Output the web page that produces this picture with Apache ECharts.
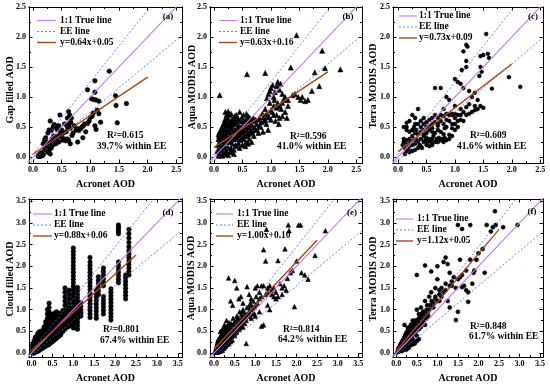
<!DOCTYPE html>
<html><head><meta charset="utf-8">
<script src="https://cdn.jsdelivr.net/npm/echarts@6/dist/echarts.min.js"></script>
<style>html,body{margin:0;padding:0;background:#fff}#c{width:550px;height:387px}</style>
</head><body><div id="c"></div>
<script>
// ---------------- DATA ----------------
const panelLetters = ['(a)','(b)','(c)','(d)','(e)','(f)'];
const yTitles = ['Gap filled AOD','Aqua MODIS AOD','Terra MODIS AOD','Cloud filled AOD','Aqua MODIS AOD','Terra MODIS AOD'];
const xTitle = 'Acronet AOD';
const ticksRow1 = [0,0.5,1.0,1.5,2.0,2.5];
const minorRow1 = [0.25,0.75,1.25,1.75,2.25];
const ticksRow2 = [0,0.5,1.0,1.5,2.0,2.5,3.0,3.5];
const minorRow2 = [0.25,0.75,1.25,1.75,2.25,2.75,3.25];
const fitSlope = [0.64,0.63,0.73,0.88,1.00,1.12];
const fitIntercept = [0.05,0.16,0.09,0.06,0.10,0.05];
const fitXEnd = [2.0,2.0,2.0,2.5,2.5,2.5];
const fitLabels = ['y=0.64x+0.05','y=0.63x+0.16','y=0.73x+0.09','y=0.88x+0.06','y=1.00x+0.10','y=1.12x+0.05'];
const r2Labels = ['R²=0.615','R²=0.596','R²=0.609','R²=0.801','R²=0.814','R²=0.848'];
const eeLabels = ['39.7% within EE','41.0% within EE','41.6% within EE','67.4% within EE','64.2% within EE','61.7% within EE'];
const eeSlopeUp = 1.2, eeSlopeLow = 0.8, eeOffset = 0.05;

const pointsA = [[0.10,0.02],[0.12,0.03],[0.13,0.02],[0.14,0.04],[0.15,0.03],[0.16,0.05],[0.17,0.03],[0.11,0.04],[0.13,0.05],[0.15,0.06],[0.18,0.04],[0.09,0.01],[0.12,0.01],[0.16,0.02],[0.14,0.07],
[0.2,0.12],[0.22,0.17],[0.25,0.2],[0.27,0.13],[0.28,0.1],[0.3,0.18],[0.32,0.15],[0.31,0.25],[0.33,0.3],[0.35,0.2],[0.36,0.35],[0.38,0.28],[0.4,0.22],[0.42,0.3],[0.44,0.35],[0.45,0.25],[0.48,0.4],[0.5,0.33],[0.52,0.28],[0.55,0.3],[0.57,0.27],[0.6,0.3],[0.62,0.28],[0.58,0.42],[0.6,0.5],[0.63,0.55],[0.65,0.48],[0.66,0.58],[0.7,0.4],[0.72,0.52],[0.65,0.22],[0.68,0.36],[0.24,0.25],[0.26,0.4],[0.28,0.45],[0.3,0.6],[0.32,0.44],[0.35,0.5],[0.37,0.54],[0.4,0.52],[0.42,0.46],[0.45,0.52],[0.47,0.7],[0.5,0.45],[0.53,0.4],[0.55,0.55],[0.6,0.65],[0.62,0.76],[0.64,0.7],[0.67,0.65],[0.2,0.28],[0.22,0.32],[0.18,0.22],[0.26,0.08],[0.3,0.05],
[0.75,0.45],[0.78,0.47],[0.8,0.44],[0.83,0.47],[0.85,0.5],[0.88,0.52],[0.9,0.55],[0.92,0.42],[0.95,0.56],[0.87,0.32],[0.98,0.6],[1.0,0.66],[1.03,0.68],[1.05,0.73],[0.95,1.12],[1.02,0.97],[1.06,0.96],[1.1,0.95],[1.08,1.27],[1.08,1.08],[1.15,0.93],[1.12,0.78],[1.15,0.72],[1.18,0.58],[1.08,0.52],[1.1,0.46],[1.33,1.43],[1.44,1.02],[1.45,0.86],[1.63,0.89],[1.47,0.57],[0.78,0.25]];

const pointsB = [[0.08,0.02],[0.09,0.05],[0.1,0.08],[0.08,0.12],[0.1,0.15],[0.12,0.18],[0.09,0.22],[0.11,0.25],[0.1,0.3],[0.12,0.35],[0.08,0.38],[0.1,0.42],[0.13,0.1],[0.14,0.05],[0.15,0.02],[0.16,0.12],[0.13,0.28],[0.15,0.32],[0.12,0.45],[0.14,0.5],[0.1,1.03],
[0.18,0.2],[0.2,0.25],[0.2,0.38],[0.22,0.45],[0.18,0.55],[0.2,0.6],[0.22,0.7],[0.2,0.75],[0.25,0.76],[0.25,0.3],[0.24,0.42],[0.26,0.52],[0.28,0.6],[0.3,0.72],[0.28,0.35],[0.3,0.25],[0.32,0.4],[0.32,0.5],[0.34,0.3],[0.35,0.62],[0.36,0.45],[0.38,0.55],[0.38,0.2],[0.4,0.3],[0.4,0.4],[0.42,0.5],[0.42,0.65],[0.44,0.35],[0.45,0.75],[0.46,0.28],[0.48,0.45],[0.48,0.6],[0.5,0.38],[0.5,0.52],[0.52,0.7],[0.52,0.3],[0.54,0.42],[0.55,0.6],[0.56,0.25],[0.58,0.5],[0.58,0.35],[0.6,0.45],[0.6,0.68],[0.62,0.3],[0.62,0.55],[0.64,0.4],[0.65,0.62],[0.66,0.25],[0.68,0.5],[0.7,0.35],[0.7,0.6],[0.72,0.45],[0.58,1.38],
[0.3,0.15],[0.35,0.12],[0.4,0.18],[0.45,0.15],[0.5,0.2],[0.55,0.18],[0.6,0.22],[0.28,0.08],[0.22,0.1],[0.25,0.16],[0.33,0.22],[0.43,0.23],[0.47,0.33],[0.53,0.5],[0.57,0.72],[0.63,0.65],[0.4,0.58],[0.36,0.68],[0.31,0.56],[0.27,0.46],[0.23,0.58],[0.19,0.45],[0.17,0.35],[0.21,0.15],
[0.75,0.55],[0.78,0.4],[0.8,0.65],[0.82,0.5],[0.85,0.72],[0.86,0.42],[0.88,0.6],[0.9,0.8],[0.9,1.4],[0.92,0.55],[0.94,0.68],[0.95,0.45],[0.96,1.05],[0.98,1.1],[1.0,0.62],[1.0,1.15],[1.02,0.75],[1.03,1.2],[1.05,0.85],[1.05,1.0],[1.07,1.08],[1.08,0.6],[1.1,1.18],[1.1,0.7],[1.12,1.25],[1.12,0.9],[1.14,0.55],[1.15,1.12],[1.15,0.65],[1.17,1.22],[1.18,0.8],[1.2,1.05],[1.2,0.68],[1.22,0.95],[1.25,0.75],[1.28,0.65],[1.3,0.85],[0.98,0.9],[1.06,0.95],[0.93,0.98],
[1.35,1.49],[1.38,1.03],[1.42,1.05],[1.45,2.03],[1.48,1.0],[1.52,0.95],[1.55,1.0],[1.6,0.93],[1.65,0.95],[1.72,1.1],[1.77,1.41],[1.85,1.18],[1.9,1.77],[1.95,1.48],[2.22,1.46],
[0.06,0.1],[0.07,0.2],[0.08,0.3],[0.09,0.35],[0.11,0.12],[0.11,0.38],[0.12,0.22],[0.13,0.42],[0.14,0.15],[0.15,0.25],[0.15,0.45],[0.16,0.38],[0.17,0.2],[0.17,0.55],[0.18,0.3],[0.19,0.62],[0.2,0.45],[0.21,0.52],[0.22,0.28],[0.23,0.35],[0.24,0.65],[0.25,0.55],[0.26,0.25],[0.27,0.7],[0.28,0.4],[0.29,0.52],[0.3,0.32],[0.31,0.45],[0.32,0.62],[0.33,0.36],[0.34,0.55],[0.35,0.42],[0.36,0.3],[0.37,0.62],[0.38,0.45],[0.39,0.7],[0.4,0.35],[0.41,0.55],[0.43,0.42],[0.44,0.6],[0.46,0.5],[0.47,0.4],[0.49,0.66],[0.5,0.3],[0.51,0.45],[0.53,0.6],[0.54,0.35],[0.56,0.52],[0.57,0.4],[0.59,0.62],[0.61,0.38],[0.63,0.48],[0.65,0.55],[0.67,0.42],[0.69,0.65],[0.71,0.5],[0.73,0.62],[0.76,0.45],[0.78,0.62],[0.8,0.52],[0.83,0.58],[0.87,0.66],[0.9,0.62],[0.93,0.72],[0.97,0.66],[1.0,0.78],[1.05,0.7],[1.1,0.82],[1.15,0.85],[1.2,0.9],[1.25,1.0],[1.3,0.95],[0.2,0.05],[0.25,0.03],[0.18,0.08],[0.3,0.08],[0.35,0.05]];

const pointsC = [[1.55,2.05],[1.15,1.76],[1.2,1.87],[1.22,1.84],[1.5,1.7],[1.58,1.72],[1.6,1.65],[1.45,1.68],[1.45,1.5],[1.47,1.42],[1.43,1.35],[1.95,1.33],[2.15,1.17],[1.65,1.14],[1.2,1.6],[1.2,1.5],[1.12,1.45],[1.0,1.3],[1.05,1.25],[1.1,1.22],[0.65,1.15],[0.75,1.15],[1.15,1.15],[1.25,1.1],[1.35,1.07],[1.3,1.0],[1.4,0.95],[1.45,0.85],[1.5,0.82],[1.35,0.85],[1.25,0.88],[1.2,0.83],[1.1,0.8],[1.0,0.85],[0.9,0.95],[0.85,1.0],[0.8,0.8],[0.85,0.72],[0.95,0.7],[1.0,0.65],[1.05,0.7],[1.1,0.62],[1.15,0.6],[0.9,0.6],[0.95,0.55],[0.85,0.5],[0.8,0.55],[0.75,0.6],[0.7,0.65],[0.65,0.58],[0.6,0.55],[0.55,0.62],[0.5,0.58],[0.45,0.65],[0.35,0.8],[0.2,0.6],[0.15,0.57],[0.1,0.5],[0.15,0.5],[0.25,0.7],[0.3,0.55],[0.32,0.45],[0.4,0.5],[0.45,0.45],[0.5,0.4],[0.55,0.45],[0.6,0.42],[0.65,0.4],[0.7,0.45],[0.75,0.42],[0.8,0.38],[0.9,0.37],[1.0,0.45],
[0.08,0.2],[0.1,0.25],[0.1,0.3],[0.12,0.15],[0.15,0.2],[0.15,0.28],[0.18,0.12],[0.18,0.22],[0.2,0.18],[0.2,0.3],[0.22,0.25],[0.25,0.2],[0.25,0.35],[0.28,0.28],[0.3,0.22],[0.3,0.4],[0.32,0.3],[0.35,0.25],[0.35,0.38],[0.38,0.2],[0.4,0.3],[0.4,0.42],[0.42,0.15],[0.45,0.25],[0.45,0.35],[0.48,0.28],[0.5,0.2],[0.5,0.32],[0.52,0.25],[0.55,0.3],[0.55,0.18],[0.58,0.25],[0.6,0.3],[0.6,0.2],[0.62,0.35],[0.65,0.25],[0.68,0.3],[0.7,0.25],[0.72,0.32],[0.75,0.28],[0.78,0.3],[0.8,0.25],[0.82,0.32],[0.85,0.28],[0.9,0.3],[0.95,0.35],[0.3,0.12],[0.35,0.15],[0.4,0.18],[0.25,0.1],[0.2,0.08],[0.15,0.1],[0.12,0.05],
[0.15,0.45],[0.2,0.42],[0.25,0.45],[0.28,0.5],[0.35,0.55],[0.4,0.6],[0.45,0.55],[0.5,0.5],[0.55,0.52],[0.6,0.65],[0.65,0.7],[0.7,0.55],[0.75,0.7],[0.8,0.68],[0.85,0.62],[0.9,0.7],[0.95,0.72],[1.0,0.72],[1.05,0.6],[1.1,0.7],[1.15,0.75],[1.2,0.7],[1.25,0.72],[1.3,0.75],[1.35,0.78],[1.4,0.8],[0.3,0.65],[0.45,0.38],[0.6,0.48],[0.7,0.52],[1.0,0.55],[1.05,0.5],[0.95,0.48],[0.82,0.48]];

const stackXD = [0.03,0.06,0.09,0.12,0.15,0.18,0.21,0.24,0.27,0.3,0.34,0.38,0.42,0.46,0.5,0.55,0.6,0.65,0.7,0.75,0.8,0.86,0.9,0.95,1.0,1.05,1.1,1.18,1.4,1.55,1.6,1.72,1.9,2.08,2.25,2.33];
const stackYD = [
[0.0,0.04,0.08,0.12,0.16,0.2],
[0.0,0.03,0.07,0.11,0.15,0.19,0.24,0.28],
[0.02,0.06,0.1,0.14,0.18,0.22,0.27,0.32,0.36],
[0.03,0.07,0.11,0.15,0.2,0.24,0.29,0.34,0.38],
[0.04,0.09,0.13,0.18,0.22,0.27,0.31,0.36,0.41,0.45],
[0.06,0.1,0.15,0.2,0.24,0.29,0.33,0.38,0.43,0.48],
[0.08,0.12,0.17,0.22,0.26,0.31,0.36,0.4,0.45,0.5],
[0.1,0.15,0.2,0.24,0.29,0.34,0.38,0.43,0.48],
[0.12,0.17,0.22,0.27,0.31,0.36,0.41,0.46,0.52],
[0.14,0.19,0.24,0.29,0.34,0.38,0.43,0.48,0.55,0.6],
[0.16,0.21,0.26,0.31,0.36,0.41,0.46,0.52,0.58,0.65,0.72],
[0.18,0.24,0.29,0.34,0.4,0.45,0.5,0.56,0.62,0.7,0.8,0.9,1.0],
[0.2,0.26,0.32,0.38,0.44,0.5,0.56,0.62,0.68,0.75,0.85,0.95,1.05,1.15],
[0.24,0.3,0.36,0.42,0.48,0.54,0.6,0.66,0.72,0.8,0.9],
[0.26,0.32,0.38,0.44,0.5,0.56,0.62,0.68,0.75,0.82],
[0.3,0.36,0.42,0.48,0.54,0.6,0.66,0.72,0.78,0.85,0.92],
[0.34,0.4,0.46,0.52,0.58,0.64,0.7,0.76,0.82,0.88,0.95],
[0.38,0.44,0.5,0.56,0.62,0.68,0.74,0.8,0.86,0.92],
[0.42,0.48,0.54,0.6,0.66,0.72,0.78,0.84,0.9],
[0.5,0.56,0.62,0.68,0.74,0.8,0.86,0.92,0.98],
[0.55,0.62,0.68,0.75,0.82,0.9,1.0,1.1,1.2,1.3,1.4,1.5],
[0.6,0.66,0.72,0.78,0.85,0.92,1.0,1.1],
[0.62,0.7,0.78,0.86,0.95,1.05,1.15,1.25,1.35,1.45],
[0.65,0.72,0.8,0.88,0.95,1.02],
[0.58,0.66,0.74,0.82,0.9,0.98,1.06,1.14,1.22,1.3,1.38,1.46,1.54,1.62,1.7,1.78,1.86,1.94,2.02,2.1,2.18,2.26,2.34,2.42],
[0.7,0.78,0.86,0.94,1.02,1.1],
[0.55,0.63,0.71,0.79,0.87,0.95,1.03,1.11,1.19,1.27,1.35,1.43,1.51],
[0.85,0.92,1.0,1.08,1.16],
[0.82,0.9,0.98,1.06,1.14,1.22,1.3,1.38,1.46,1.54,1.62,1.7,1.78,1.86,1.94,2.02,2.1,2.2],
[0.8,0.88,0.96,1.04,1.12,1.2,1.28,1.36,1.44],
[1.35,1.43,1.51,1.6,1.68,1.76],
[0.9,0.98,1.06,1.14,1.22,1.3,1.55,1.63,1.71,1.8,1.88,1.96],
[0.76,0.84,0.92,1.0,1.08,1.16,1.24,1.32,1.4,1.48],
[1.62,1.7,1.78,1.86,1.94,2.02,2.1,2.75,2.8,2.85,2.9,2.95],
[1.25,1.33,1.41,1.49,1.57,1.65,1.73,1.8],
[1.8,1.88,1.96,2.04,2.12,2.2,2.28,2.36,2.45,2.55,2.65,2.75,2.85]];

const pointsE = [[0.03,0.02],[0.05,0.05],[0.06,0.1],[0.07,0.03],[0.08,0.15],[0.09,0.08],[0.1,0.12],[0.1,0.2],[0.11,0.05],[0.12,0.18],[0.12,0.25],[0.13,0.1],[0.14,0.3],[0.15,0.15],[0.15,0.22],[0.16,0.35],[0.17,0.08],[0.18,0.2],[0.18,0.28],[0.19,0.4],[0.2,0.12],[0.2,0.25],[0.21,0.33],[0.22,0.18],[0.22,0.45],[0.23,0.3],[0.24,0.22],[0.25,0.38],[0.25,0.5],[0.26,0.15],[0.27,0.28],[0.28,0.42],[0.28,0.6],[0.3,0.2],[0.3,0.33],[0.3,0.5],[0.32,0.4],[0.32,0.62],[0.34,0.28],[0.35,0.45],[0.35,0.55],[0.36,0.7],[0.38,0.35],[0.38,0.5],[0.4,0.42],[0.4,0.6],[0.42,0.3],[0.42,0.52],[0.44,0.65],[0.45,0.45],[0.46,0.8],[0.48,0.55],[0.5,0.4],[0.5,0.62],[0.52,0.7],[0.55,0.5],[0.55,0.85],[0.58,0.65],[0.6,0.55],[0.6,0.75],[0.62,0.95],[0.65,0.7],[0.68,0.85],[0.7,0.6],[0.7,1.0],[0.72,0.78],[0.75,0.9],[0.78,0.22],[0.78,0.75],[0.8,1.05],[0.82,0.85],[0.85,0.95],[0.88,1.15],[0.9,0.8],[0.92,1.0],[0.95,1.2],[0.98,0.9],[1.0,1.1],[1.02,1.3],
[0.08,0.02],[0.12,0.06],[0.16,0.1],[0.2,0.06],[0.24,0.12],[0.28,0.16],[0.32,0.2],[0.36,0.22],[0.4,0.26],[0.44,0.3],[0.14,0.04],[0.18,0.13],[0.22,0.1],[0.26,0.22],[0.3,0.26],[0.34,0.35],[0.38,0.42],[0.42,0.38],[0.46,0.48],[0.5,0.5],[0.06,0.06],[0.09,0.14],[0.11,0.18],[0.13,0.22],[0.17,0.26],[0.19,0.3],[0.23,0.36],[0.27,0.4],[0.29,0.46],[0.33,0.5],
[0.04,0.08],[0.05,0.12],[0.06,0.16],[0.07,0.2],[0.08,0.24],[0.09,0.28],[0.1,0.32],[0.11,0.1],[0.12,0.14],[0.13,0.34],[0.14,0.18],[0.15,0.38],[0.16,0.24],[0.17,0.42],[0.18,0.16],[0.19,0.22],[0.2,0.34],[0.21,0.48],[0.22,0.26],[0.23,0.42],[0.24,0.3],[0.25,0.56],[0.26,0.34],[0.27,0.5],[0.28,0.24],[0.29,0.36],[0.3,0.42],[0.31,0.58],[0.32,0.3],[0.33,0.45],[0.34,0.52],[0.35,0.36],[0.36,0.6],[0.37,0.48],[0.38,0.62],[0.39,0.4],[0.4,0.5],[0.41,0.68],[0.43,0.45],[0.44,0.55],[0.45,0.6],[0.47,0.5],[0.48,0.68],[0.49,0.45],[0.5,0.72],[0.52,0.58],[0.53,0.48],[0.54,0.66],[0.56,0.75],[0.57,0.56],[0.58,0.82],[0.6,0.66],[0.62,0.58],[0.63,0.78],[0.66,0.62],[0.67,0.9],[0.69,0.72],[0.72,0.95],[0.74,0.68],[0.76,0.82],[0.8,0.9],[0.84,1.05],[0.87,0.88],[0.9,1.1],[0.94,0.92],[0.97,1.05],[1.05,1.15],[1.1,1.25],[1.15,1.3],[1.25,1.35],[1.3,1.4],[1.4,1.45],[1.45,1.3],[0.02,0.04],[0.04,0.02],
[0.2,0.55],[0.15,0.5],[0.25,0.65],[0.3,0.75],[0.35,1.73],[0.4,1.2],[0.45,1.1],[0.5,1.67],[0.55,1.5],[0.6,1.25],[0.65,1.3],[0.7,1.15],[0.8,1.53],[0.85,1.35],[0.9,1.25],[1.0,1.5],[1.05,1.55],[1.1,1.4],[1.15,0.62],[1.2,2.38],[1.25,2.12],[1.27,2.85],[1.3,1.5],[1.35,1.55],[1.4,1.35],[1.45,1.5],[1.5,1.4],[1.55,2.13],[1.6,1.6],[1.65,1.5],[1.7,1.55],[1.72,2.4],[1.75,1.45],[1.78,1.72],[1.8,2.95],[1.82,2.82],[1.85,1.85],[1.9,1.9],[1.95,1.07],[2.0,2.12],[2.05,2.95],[2.1,2.95],[2.12,1.85],[2.2,1.8],[2.28,1.7],[2.45,2.25],[2.7,2.82],[1.2,0.65],[1.0,0.85],[1.1,0.95],[1.3,1.1],[1.35,1.0],[1.5,1.25],[1.55,1.3],[1.65,1.35],[1.2,1.55],[1.15,1.55]];

const pointsF = [[0.03,0.02],[0.05,0.06],[0.06,0.1],[0.07,0.04],[0.08,0.14],[0.09,0.08],[0.1,0.12],[0.1,0.18],[0.11,0.05],[0.12,0.16],[0.12,0.22],[0.13,0.1],[0.14,0.26],[0.15,0.14],[0.15,0.2],[0.16,0.3],[0.17,0.08],[0.18,0.2],[0.18,0.26],[0.19,0.36],[0.2,0.12],[0.2,0.24],[0.21,0.3],[0.22,0.18],[0.22,0.42],[0.23,0.28],[0.24,0.22],[0.25,0.35],[0.25,0.48],[0.26,0.15],[0.27,0.28],[0.28,0.4],[0.28,0.58],[0.3,0.22],[0.3,0.33],[0.3,0.45],[0.32,0.38],[0.32,0.6],[0.34,0.28],[0.35,0.42],[0.35,0.52],[0.36,0.66],[0.38,0.35],[0.38,0.5],[0.4,0.42],[0.4,0.58],[0.42,0.3],[0.42,0.52],[0.44,0.62],[0.45,0.45],[0.46,0.75],[0.48,0.55],[0.5,0.4],[0.5,0.62],[0.52,0.7],[0.55,0.55],[0.55,0.8],[0.58,0.65],[0.6,0.6],[0.6,0.75],[0.62,0.9],[0.65,0.72],[0.68,0.85],[0.7,0.65],[0.72,0.8],[0.75,0.92],[0.78,0.85],[0.8,1.0],[0.4,0.2],[0.45,0.22],[0.35,0.18],[0.3,0.12],[0.25,0.08],[0.5,0.28],[0.55,0.32],[0.42,0.25],[0.14,0.05],[0.2,0.08],
[0.04,0.06],[0.05,0.1],[0.06,0.04],[0.07,0.12],[0.08,0.08],[0.09,0.16],[0.1,0.08],[0.11,0.2],[0.12,0.12],[0.13,0.18],[0.14,0.2],[0.15,0.24],[0.16,0.18],[0.17,0.28],[0.18,0.22],[0.19,0.3],[0.2,0.28],[0.21,0.36],[0.22,0.26],[0.23,0.34],[0.24,0.4],[0.25,0.28],[0.26,0.38],[0.27,0.44],[0.28,0.32],[0.29,0.5],[0.3,0.38],[0.31,0.42],[0.32,0.48],[0.33,0.36],[0.34,0.55],[0.35,0.46],[0.36,0.5],[0.37,0.58],[0.38,0.44],[0.39,0.54],[0.4,0.62],[0.41,0.5],[0.43,0.56],[0.44,0.68],[0.46,0.58],[0.47,0.64],[0.49,0.7],[0.5,0.52],[0.52,0.6],[0.53,0.76],[0.56,0.66],[0.57,0.72],[0.59,0.82],[0.62,0.68],[0.64,0.78],[0.66,0.95],[0.69,0.8],[0.72,0.9],[0.74,1.0],[0.77,0.95],[0.82,1.1],[0.86,1.2],[0.9,1.15],[0.95,1.3],[1.0,1.2],[1.05,1.45],[1.1,1.3],[1.15,1.4],[1.2,1.45],[1.3,1.55],[1.35,1.65],[1.5,1.7],[1.6,1.8],[1.7,1.9],[1.95,2.15],[2.0,2.3],[2.1,2.4],
[0.2,0.65],[0.3,0.55],[0.35,0.6],[0.4,0.75],[0.45,0.7],[0.5,1.0],[0.5,1.8],[0.55,0.9],[0.6,1.05],[0.65,0.95],[0.7,2.02],[0.7,1.2],[0.75,1.1],[0.8,1.3],[0.85,1.88],[0.85,1.4],[0.9,1.05],[0.95,1.5],[1.0,1.7],[1.0,2.0],[1.05,1.2],[1.1,1.5],[1.15,2.1],[1.2,2.2],[1.2,1.6],[1.25,2.05],[1.25,1.2],[1.3,1.05],[1.35,1.55],[1.45,1.5],[1.45,0.76],[1.5,0.95],[1.5,2.95],[1.55,2.15],[1.6,1.52],[1.65,1.55],[1.7,1.45],[1.75,1.18],[1.75,1.4],[1.8,2.15],[1.8,2.95],[1.85,1.6],[1.88,1.85],[1.9,1.9],[2.15,1.85],[2.2,2.95],[2.3,2.8],[2.35,2.9],[2.4,3.27],[2.42,2.95],[2.6,2.9],[2.95,2.95],[1.6,2.86],[1.3,1.85],[1.4,1.75],[1.55,1.75],[1.05,1.35],[0.95,1.25]];

// ---------------- LAYOUT / STYLE ----------------
const grids = [
 {left:29, top:7, width:153, height:156},
 {left:210, top:7, width:152, height:156},
 {left:393, top:7, width:150, height:156},
 {left:29, top:199, width:153, height:158},
 {left:210, top:199, width:152, height:158},
 {left:393, top:199, width:150, height:158}];
const xRange = [[-0.07,2.6],[-0.07,2.6],[-0.09,2.55],[-0.06,3.6],[-0.1,3.59],[-0.08,3.57]];
const yRange = [[-0.1,2.5],[-0.1,2.5],[-0.1,2.5],[-0.09,3.55],[-0.09,3.55],[-0.09,3.55]];
const symbols = ['circle','triangle','circle','circle','triangle','circle'];
const symSize = [4.5,5,3.8,4.5,4.5,4];
const legTop = [13.5,13.5,9,15,15,20];
const legLine = [[8,27,31],[9,27,30],[6,24,26],[4,23,25],[6,23,27],[3,20,24]];
const annR2 = [[107,136],[290,137],[470,136],[103,330],[283,330],[470,327]];
const annEE = [[97,147],[277,147],[457,147],[100,341],[278,340],[469,337]];
const letterPos = [[168,17],[348,17],[533,17],[168,213],[352,213],[532,212]];
const yTitlePos = [[10,90],[192,87],[373,86],[10,279],[191,278],[373,279]];

const FONT = '"Liberation Serif","Times New Roman",serif';
const C11 = '#c77ae8', CEE = '#4f5fe0', CFIT = '#a5481f';

const stackPointsD = [];
stackXD.forEach((x,i)=>stackYD[i].forEach(y=>stackPointsD.push([x,y])));
const allPoints = [pointsA,pointsB,pointsC,stackPointsD,pointsE,pointsF];

const xAxes=[], yAxes=[], series=[], graphics=[];
for(let i=0;i<6;i++){
  const major = i<3?ticksRow1:ticksRow2, minor = i<3?minorRow1:minorRow2;
  const [x0,x1]=xRange[i], [y0,y1]=yRange[i];
  const base = {type:'value', gridIndex:i, splitLine:{show:false}, axisLine:{show:true,onZero:false,lineStyle:{color:'#000',width:1}}};
  const mk = (pos, ticks, len, label, name, min, max) => Object.assign({}, base, {
    position:pos, min, max,
    axisTick:{show:true, inside:true, length:len, customValues:ticks, lineStyle:{color:'#000',width:1}},
    axisLabel: label ? {show:true, customValues:major, margin:3, fontFamily:FONT, fontWeight:'bold', fontSize:8, color:'#000', formatter:v=>v.toFixed(1)} : {show:false},
    name: name||'', nameLocation:'middle', nameGap:16,
    nameTextStyle:{fontFamily:FONT, fontWeight:'bold', fontSize:10, color:'#000'}
  });
  xAxes.push(mk('bottom',major,3.5,true,xTitle,x0,x1));
  xAxes.push(mk('top',major,3.5,false,'',x0,x1));
  xAxes.push(mk('bottom',minor,2,false,'',x0,x1));
  xAxes.push(mk('top',minor,2,false,'',x0,x1));
  yAxes.push(mk('left',major,3.5,true,'',y0,y1));
  yAxes.push(mk('right',major,3.5,false,'',y0,y1));
  yAxes.push(mk('left',minor,2,false,'',y0,y1));
  yAxes.push(mk('right',minor,2,false,'',y0,y1));
  const xi=i*4, yi=i*4;
  series.push({type:'scatter', xAxisIndex:xi, yAxisIndex:yi, data:allPoints[i], symbol:symbols[i], symbolSize:symSize[i], itemStyle:{color:'#000', opacity:1, borderColor:'#000', borderWidth:0.6}, z:2, silent:true});
  const lo=Math.min(x0,y0), hi=Math.max(x1,y1);
  const lineS = (data,color,width,type,z)=>({type:'line', xAxisIndex:xi, yAxisIndex:yi, data, symbol:'none', clip:true, lineStyle:{color,width,type,opacity:1}, z, silent:true});
  series.push(lineS([[lo,lo],[hi,hi]],C11,1.1,'solid',3));
  series.push(lineS([[lo,eeSlopeUp*lo+eeOffset],[hi,eeSlopeUp*hi+eeOffset]],CEE,0.8,[2,2],3));
  series.push(lineS([[lo,eeSlopeLow*lo-eeOffset],[hi,eeSlopeLow*hi-eeOffset]],CEE,0.8,[2,2],3));
  series.push(lineS([[0,fitIntercept[i]],[fitXEnd[i],fitSlope[i]*fitXEnd[i]+fitIntercept[i]]],CFIT,1.4,'solid',4));
  const g=grids[i], L=legLine[i];
  const rows=[['1:1 True line',C11,'solid',1.1],['EE line',CEE,'dashed',0.8],[fitLabels[i],CFIT,'solid',1.4]];
  rows.forEach((r,k)=>{
    const y=g.top+legTop[i]+k*11;
    graphics.push({type:'line', shape:{x1:g.left+L[0],y1:y,x2:g.left+L[1],y2:y}, style:{stroke:r[1],lineWidth:r[3],lineDash:r[2]==='dashed'?[2,2]:null}, z:10});
    graphics.push({type:'text', x:g.left+L[2], y:y, style:{text:r[0], font:'bold 9.5px '+FONT, fill:'#000', verticalAlign:'middle', align:'left'}, z:10});
  });
  graphics.push({type:'text', x:annR2[i][0], y:annR2[i][1], style:{text:r2Labels[i], font:'bold 9.5px '+FONT, fill:'#000', verticalAlign:'middle'}, z:10});
  graphics.push({type:'text', x:annEE[i][0], y:annEE[i][1], style:{text:eeLabels[i], font:'bold 9.5px '+FONT, fill:'#000', verticalAlign:'middle'}, z:10});
  graphics.push({type:'text', x:letterPos[i][0], y:letterPos[i][1], style:{text:panelLetters[i], font:'bold 9px '+FONT, fill:'#000', verticalAlign:'middle', align:'center'}, z:10});
  graphics.push({type:'text', x:yTitlePos[i][0], y:yTitlePos[i][1], rotation:Math.PI/2, style:{text:yTitles[i], font:'bold 10px '+FONT, fill:'#000', verticalAlign:'middle', align:'center'}, z:10});
}

const chart = echarts.init(document.getElementById('c'), null, {renderer:'canvas'});
chart.setOption({
  animation:false, backgroundColor:'#fff',
  grid: grids.map(g=>Object.assign({containLabel:false, show:false}, g)),
  xAxis:xAxes, yAxis:yAxes, series, graphic:graphics
});
</script></body></html>
